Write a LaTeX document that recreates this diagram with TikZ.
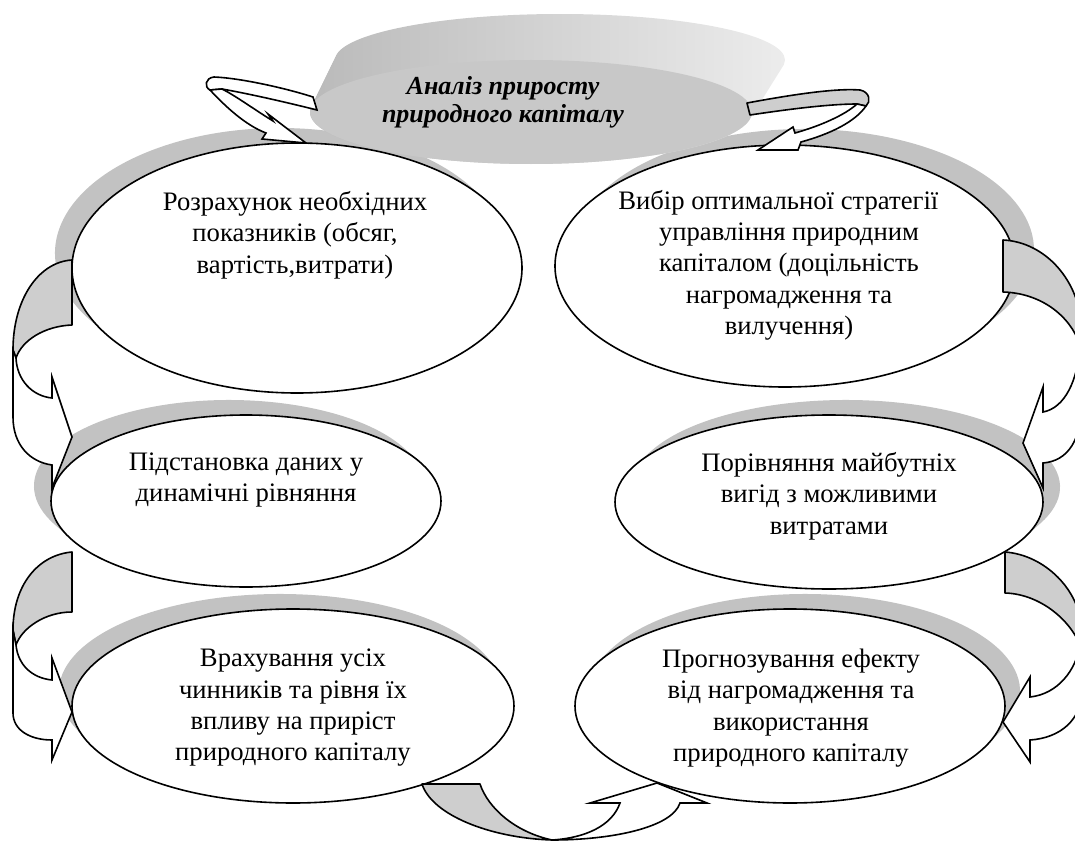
\documentclass[tikz,border=0pt]{standalone}
\usepackage{fontspec}
\setmainfont{Liberation Serif}
\usetikzlibrary{shapes.geometric}
\definecolor{extrude}{RGB}{194,194,194}
\definecolor{bandgray}{RGB}{206,206,206}
\definecolor{discface}{RGB}{200,200,200}
\definecolor{discleft}{RGB}{186,186,186}
\definecolor{discmid}{RGB}{166,166,166}
\definecolor{discright}{RGB}{236,236,236}

% gray 3D side of an oval: centre (#1,#2), radii (#3,#4), offset of the back face (#5,#6)
% filled as the region swept by the oval along the offset
\newcommand\ovalside[6]{%
  \pgfmathsetmacro\tang{atan(-(#4*#5)/(#3*#6))}%
  \fill[extrude] ({#1+#5+#3*cos(\tang+180)},{#2+#6+#4*sin(\tang+180)})
    arc [start angle=\tang+180, end angle=\tang+360, x radius=#3, y radius=#4]
    -- ({#1+#3*cos(\tang)},{#2+#4*sin(\tang)})
    arc [start angle=\tang, end angle=\tang+180, x radius=#3, y radius=#4] -- cycle;}

\begin{document}
\begin{tikzpicture}[x=0.75pt,y=-0.75pt,
  stage/.style={ellipse, draw=black, line width=1.2pt, fill=white, inner sep=0pt},
  stagetext/.style={align=center, font=\fontsize{20}{23.5}\selectfont, inner sep=0pt},
  backband/.style={fill=bandgray, draw=black, line width=1.2pt, line join=round},
  frontband/.style={fill=white, draw=black, line width=1.2pt, line join=miter, miter limit=20},
]
\useasboundingbox (0,0) rectangle (1075,842);
\clip (0,0) rectangle (1075,842);

% 3D sides of the six ovals
\ovalside{297}{268}{225}{125}{-17}{-15}
\ovalside{785}{266}{230}{121}{19}{-16}
\ovalside{246}{501}{195}{86}{-17}{-15}
\ovalside{829}{502}{214}{87}{17}{-15}
\ovalside{293}{706}{221}{97}{-13}{-15}
\ovalside{790}{706}{215}{97}{15}{-15}

% title disc: extruded side and face
\shade[left color=discleft, middle color=discmid, right color=discright]
  \foreach \t in {0,0.04,...,1.01} {({531+29*\t},{112-52*\t}) ellipse [x radius={221+4*\t}, y radius={52-6*\t}]};
\fill[discface] (531,112) ellipse [x radius=221, y radius=52];
\node[font=\bfseries\itshape\fontsize{19.5}{21}\selectfont, align=center, inner sep=0pt] (title) at (503,102)
  {Аналіз приросту\\природного капіталу};

% oval faces
\node[stage, minimum width={1.5*225pt}, minimum height={1.5*125pt}] (s1) at (297,268) {};
\node[stage, minimum width={1.5*230pt}, minimum height={1.5*121pt}] (s2) at (785,266) {};
\node[stage, minimum width={1.5*195pt}, minimum height={1.5*86pt}] (s3) at (246,501) {};
\node[stage, minimum width={1.5*214pt}, minimum height={1.5*87pt}] (s4) at (829,502) {};
\node[stage, minimum width={1.5*221pt}, minimum height={1.5*97pt}] (s5) at (293,706) {};
\node[stage, minimum width={1.5*215pt}, minimum height={1.5*97pt}] (s6) at (790,706) {};

\node[stagetext] (t1) at (295,235) {Розрахунок необхідних\\показників (обсяг,\\вартість,витрати)};
\node[stagetext] (t2) at (789,265) {Вибір оптимальної стратегії\hspace*{16pt}\\управління природним\\капіталом (доцільність\\нагромадження та\\вилучення)};
\node[stagetext] (t3) at (246,480) {Підстановка даних у\\динамічні рівняння};
\node[stagetext] (t4) at (829,496) {Порівняння майбутніх\\вигід з можливими\\витратами};
\node[stagetext] (t5) at (293,708) {Врахування усіх\\чинників та рівня їх\\впливу на приріст\\природного капіталу};
\node[stagetext] (t6) at (791,708) {Прогнозування ефекту\\від нагромадження та\\використання\\природного капіталу};

% curved arrow: title -> s1
\filldraw[frontband] (313,97) .. controls (285,88) and (240,78) .. (214,77)
  .. controls (205,78) and (204,87) .. (210,90) -- (222,89)
  .. controls (250,94) and (285,102) .. (317,110) -- cycle;
\filldraw[frontband] (210,90) .. controls (225,106) and (245,125) .. (266,133) -- (262,139) -- (306,143)
  -- (268,114) -- (273,121) .. controls (255,110) and (236,96) .. (222,89) -- cycle;

% curved arrow: title -> s2
\filldraw[backband] (747,103) .. controls (790,95) and (835,88) .. (860,90)
  .. controls (870,92) and (871,102) .. (866,106) -- (857,104)
  .. controls (830,104) and (790,109) .. (750,115) -- cycle;
\filldraw[frontband] (866,106) .. controls (855,122) and (830,134) .. (801,142) -- (798,150) -- (758,150)
  -- (793,127) -- (795,133) .. controls (820,126) and (845,115) .. (857,104) -- cycle;

% curved arrow: s1 -> s3
\filldraw[backband] (72,260) .. controls (38,262) and (13,300) .. (13,350) -- (16,358)
  .. controls (22,340) and (45,326) .. (72,325) -- cycle;
\filldraw[frontband] (13,350) -- (13,417) .. controls (13,445) and (30,462) .. (52,465) -- (52,488)
  -- (72,437) -- (52,377) -- (52,398) .. controls (32,396) and (17,380) .. (16,358) -- cycle;

% curved arrow: s3 -> s5
\filldraw[backband] (72,552) .. controls (38,555) and (13,585) .. (13,630) -- (16,645)
  .. controls (22,628) and (45,612) .. (72,612) -- cycle;
\filldraw[frontband] (13,630) -- (13,713) .. controls (13,730) and (30,740) .. (52,740) -- (52,760)
  -- (72,712) -- (52,658) -- (52,680) .. controls (32,678) and (18,665) .. (16,645) -- cycle;

% curved arrow: s2 -> s4
\filldraw[backband] (1003,240) .. controls (1045,242) and (1080,280) .. (1082,330) -- (1080,345)
  .. controls (1070,315) and (1040,293) .. (1003,292) -- cycle;
\filldraw[frontband] (1082,330) -- (1082,400) .. controls (1082,440) and (1068,461) .. (1043,463) -- (1043,488)
  -- (1023,443) -- (1043,387) -- (1043,412) .. controls (1065,408) and (1078,380) .. (1080,345) -- cycle;

% curved arrow: s4 -> s6
\filldraw[backband] (1005,552) .. controls (1045,555) and (1080,590) .. (1082,630) -- (1080,645)
  .. controls (1070,620) and (1040,594) .. (1005,593) -- cycle;
\filldraw[frontband] (1082,630) -- (1082,690) .. controls (1082,720) and (1060,738) .. (1030,740) -- (1030,762)
  -- (1003,722) -- (1030,677) -- (1030,697) .. controls (1058,694) and (1076,670) .. (1080,645) -- cycle;

% curved arrow: s5 -> s6
\filldraw[backband] (422,784) -- (480,784) .. controls (488,808) and (515,832) .. (552,840)
  .. controls (490,838) and (432,815) .. (422,784) -- cycle;
\filldraw[frontband] (552,840) .. controls (610,840) and (672,828) .. (680,803) -- (707,803) -- (657,783)
  -- (590,803) -- (620,803) .. controls (612,826) and (585,838) .. (552,840) -- cycle;
\end{tikzpicture}
\end{document}
